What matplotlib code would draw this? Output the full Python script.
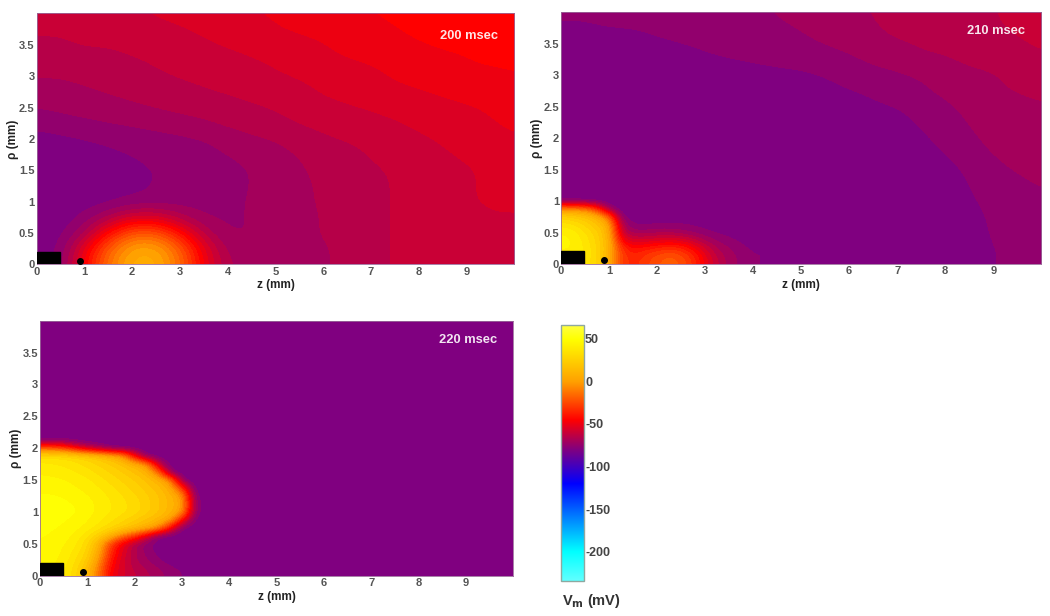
"""
Vm maps at three time points, rho vs z, with a shared colour scale.
Field values are read off the picture on regular grids, imshow does the smoothing.
"""
import numpy as np
import matplotlib
matplotlib.use("Agg")
import matplotlib.pyplot as plt
from matplotlib.cm import ScalarMappable
from matplotlib.colors import LinearSegmentedColormap, Normalize
from matplotlib.patches import Rectangle

plt.rcParams["font.family"] = ["Liberation Sans", "DejaVu Sans"]
plt.rcParams["font.weight"] = "bold"

W, H = 1050, 616

z_ticks = [0, 1, 2, 3, 4, 5, 6, 7, 8, 9]
rho_ticks = [0, 0.5, 1, 1.5, 2, 2.5, 3, 3.5]
rho_tick_labels = ["0", "0.5", "1", "1.5", "2", "2.5", "3", "3.5"]
cbar_ticks = [50, 0, -50, -100, -150, -200]
electrode_z = 0.48
electrode_rho = 0.2
probe_z = 0.9
probe_rho = 0.06

# coarse grid: z 0..10 by 0.5, rho 0..4 by 0.25
# fine grid near the electrode: z 0..4 by 0.25, rho by 0.125

# ---------- 200 msec ----------
vm_200 = [
    [-78, -75, -45, -12, 6, 6, -14, -48, -66, -68, -68, -67, -66, -64, -62, -60, -59, -58, -57, -56, -56],
    [-78, -76, -50, -18, 2, 2, -18, -52, -68, -70, -69, -67, -66, -64, -62, -60, -59, -58, -57, -57, -56],
    [-79, -77, -68, -42, -21, -21, -42, -64, -71, -70, -69, -67, -65, -63, -62, -60, -59, -58, -57, -56, -56],
    [-79, -78, -74, -66, -56, -56, -65, -71, -71, -70, -68, -67, -65, -63, -62, -60, -59, -58, -57, -56, -56],
    [-79, -79, -78, -77, -75, -74, -73, -72, -71, -70, -68, -66, -65, -63, -62, -60, -59, -58, -56, -55, -55],
    [-79, -79, -78, -77, -76, -75, -74, -73, -72, -70, -68, -66, -65, -63, -62, -60, -59, -58, -56, -55, -55],
    [-79, -79, -78, -77, -76, -75, -74, -73, -72, -70, -68, -66, -64, -63, -61, -60, -59, -57, -56, -55, -54],
    [-79, -78, -77, -76, -75, -74, -73, -72, -70, -68, -67, -65, -63, -62, -60, -59, -58, -56, -55, -54, -53],
    [-77, -76, -75, -74, -73, -72, -71, -70, -68, -66, -65, -63, -61, -60, -59, -57, -56, -55, -54, -52, -51],
    [-73, -72, -71, -70, -69, -68, -67, -66, -64, -63, -62, -60, -59, -58, -57, -56, -55, -54, -53, -51, -50],
    [-70, -69, -68, -67, -66, -65, -64, -63, -62, -61, -60, -58, -57, -56, -55, -54, -53, -52, -51, -50, -49],
    [-67, -67, -66, -65, -64, -63, -62, -61, -60, -59, -58, -57, -55, -54, -53, -52, -51, -50, -49, -49, -48],
    [-65, -65, -64, -63, -62, -61, -60, -59, -58, -57, -56, -55, -54, -53, -52, -50, -49, -48, -47, -47, -46],
    [-63, -63, -62, -62, -61, -60, -59, -58, -57, -56, -55, -54, -52, -51, -50, -49, -48, -47, -46, -45, -45],
    [-61, -61, -60, -60, -59, -58, -57, -56, -55, -54, -53, -52, -51, -49, -48, -47, -46, -45, -45, -45, -45],
    [-60, -60, -59, -59, -58, -57, -56, -55, -54, -53, -51, -50, -49, -48, -47, -46, -45, -45, -45, -45, -45],
    [-58, -58, -57, -57, -56, -55, -54, -53, -52, -51, -50, -48, -47, -46, -46, -45, -45, -45, -45, -45, -45],
]

# ---------- 210 msec ----------
vm_210 = [
    [-80] * 17 + [-78, -75, -74, -73],
    [-80] * 17 + [-78, -75, -74, -74],
    [-80] * 17 + [-78, -74, -73, -73],
    [-80] * 17 + [-77, -74, -73, -72],
    [-80] * 16 + [-79, -76, -73, -72, -71],
    [-80] * 16 + [-78, -75, -72, -71, -70],
    [-80] * 15 + [-79, -77, -74, -71, -70, -69],
    [-80] * 15 + [-78, -75, -72, -70, -69, -68],
    [-80] * 14 + [-79, -76, -73, -71, -69, -68, -67],
    [-80] * 12 + [-79, -78, -77, -74, -72, -70, -68, -67, -66],
    [-80] * 11 + [-79, -78, -76, -75, -73, -71, -69, -68, -67, -66],
    [-80] * 9 + [-79, -78, -76, -75, -74, -72, -71, -69, -68, -66, -65, -64],
    [-80] * 7 + [-79, -78, -77, -76, -75, -74, -72, -71, -70, -68, -67, -66, -64, -63],
    [-80] * 4 + [-79, -78, -76, -75, -74, -73, -73, -72, -71, -69, -68, -66, -66, -64, -63, -62, -61],
    [-79, -78, -78, -77, -76, -75, -74, -73, -72, -72, -71, -70, -69, -67, -66, -65, -64, -63, -62, -61, -60],
    [-76, -76, -75, -75, -74, -73, -72, -72, -71, -71, -70, -69, -68, -66, -64, -63, -63, -62, -61, -60, -59],
    [-74, -74, -73, -73, -73, -72, -72, -71, -71, -70, -69, -68, -67, -65, -63, -62, -62, -61, -61, -59, -58],
]
vm_210_near = [
    [38, 38, 35, 28, 8, -28, -34, -28, -22, -18, -22, -32, -48, -60, -68, -72, -75],
    [40, 40, 36, 28, 8, -28, -35, -30, -24, -20, -24, -34, -50, -62, -68, -72, -75],
    [42, 42, 36, 28, 10, -32, -42, -38, -35, -32, -35, -44, -56, -66, -70, -74, -76],
    [43, 42, 35, 26, 10, -45, -55, -54, -52, -50, -52, -58, -66, -71, -74, -76, -78],
    [42, 40, 32, 24, 8, -58, -68, -68, -66, -66, -68, -71, -74, -76, -77, -78, -79],
    [35, 32, 26, 18, 5, -65, -76, -76, -75, -75, -75, -76, -77, -78, -79, -80, -80],
    [25, 22, 18, 8, -15, -76, -78, -78, -78, -78, -78, -78, -79, -80, -80, -80, -80],
    [-5, -8, -12, -30, -72, -80, -80, -80, -80, -80, -80, -80, -80, -80, -80, -80, -80],
    [-78, -78, -79] + [-80] * 14,
    [-80] * 17,
    [-80] * 17,
]

# ---------- 220 msec ----------
vm_220_near = [
    [44, 42, 38, 28, 12, -15, -48, -55, -60, -64, -68, -72, -75, -78, -79, -80, -80],
    [44, 42, 38, 30, 15, -12, -45, -55, -62, -66, -70, -74, -76, -78, -80, -80, -80],
    [45, 43, 40, 32, 22, -5, -40, -55, -65, -70, -75, -78, -80, -80, -80, -80, -80],
    [46, 44, 41, 35, 26, 3, -35, -52, -65, -72, -77, -80, -80, -80, -80, -80, -80],
    [46, 45, 42, 38, 28, 8, -30, -50, -65, -75, -78, -80, -80, -80, -80, -80, -80],
    [47, 46, 44, 40, 33, 22, 8, -15, -30, -55, -78, -80, -80, -80, -80, -80, -80],
    [48, 47, 46, 43, 40, 34, 28, 22, 15, 8, -5, -45, -78, -80, -80, -80, -80],
    [49, 48, 47, 45, 42, 38, 33, 28, 22, 16, 10, 2, -45, -78, -80, -80, -80],
    [50, 50, 49, 47, 44, 40, 37, 33, 30, 24, 18, 10, 0, -72, -80, -80, -80],
    [50, 49, 48, 46, 44, 40, 37, 33, 30, 24, 18, 10, 2, -70, -80, -80, -80],
    [47, 47, 46, 44, 42, 39, 36, 32, 28, 23, 18, 10, 0, -75, -80, -80, -80],
    [45, 45, 44, 42, 40, 37, 33, 29, 25, 20, 14, 5, -30, -80, -80, -80, -80],
    [43, 43, 42, 40, 38, 34, 30, 26, 22, 16, 10, -5, -78, -80, -80, -80, -80],
    [41, 40, 39, 37, 34, 30, 26, 22, 16, 10, -15, -78, -80, -80, -80, -80, -80],
    [38, 37, 36, 33, 30, 26, 22, 16, 8, -3, -60, -80, -80, -80, -80, -80, -80],
    [32, 32, 31, 28, 24, 18, 10, 0, -45, -78, -80, -80, -80, -80, -80, -80, -80],
    [-20, -22, -28, -45, -60, -68, -78, -80, -80, -80, -80, -80, -80, -80, -80, -80, -80],
    [-78, -78, -78, -79] + [-80] * 13,
    [-80] * 17,
    [-80] * 17,
    [-80] * 17,
]
vm_220_rest = -80

# colour scale stops, mV
vm_min, vm_max = -234, 66
stop_vm = [-234, -200, -160, -120, -80, -45, 0, 50, 66]
stop_colors = ["#60ffff", "#00ffff", "#0080ff", "#0000ff", "#800080",
               "#ff0000", "#ffa000", "#ffff00", "#ffff40"]


def make_cmap(name, vals, cols):
    pos = [(v - vals[0]) / (vals[-1] - vals[0]) for v in vals]
    return LinearSegmentedColormap.from_list(name, list(zip(pos, cols)), N=256)


cmap = make_cmap("vm", stop_vm, stop_colors)
norm = Normalize(vm_min, vm_max)
# the maps bottom out at -80, anything under it stays purple; 30 steps give the bands
field_cmap = make_cmap("vm_field", stop_vm[4:], stop_colors[4:]).resampled(30)
field_norm = Normalize(-80, vm_max)


def add_axes_px(fig, left, top, right, bottom):
    return fig.add_axes([left / W, 1 - bottom / H, (right - left) / W, (bottom - top) / H])


def show_field(ax, vm, dz, drho):
    vm = np.array(vm, dtype=float)
    z_end = (vm.shape[1] - 1) * dz
    rho_end = (vm.shape[0] - 1) * drho
    ax.imshow(vm, origin="lower", aspect="auto", cmap=field_cmap, norm=field_norm,
              extent=(-dz / 2, z_end + dz / 2, -drho / 2, rho_end + drho / 2),
              interpolation="bicubic", interpolation_stage="data")


def draw_panel(fig, box, layers, label, label_y):
    ax = add_axes_px(fig, *box)
    ax.set_facecolor(field_cmap(field_norm(vm_220_rest)))
    for vm, dz, drho in layers:
        show_field(ax, vm, dz, drho)
    ax.set_xlim(0, 10)
    ax.set_ylim(0, 4)
    ax.set_xticks(z_ticks)
    ax.set_yticks(rho_ticks)
    ax.set_yticklabels(rho_tick_labels)
    ax.tick_params(length=0, labelsize=8, labelcolor="#555555", pad=1.5)
    ax.set_xlabel("z (mm)", fontsize=8.5, fontweight="bold", color="#222222", va="center")
    ax.set_ylabel("ρ (mm)", fontsize=8.5, fontweight="bold", color="#222222", va="center")
    ax.xaxis.set_label_coords(0.5, -0.082)
    ax.yaxis.set_label_coords(-0.05, 0.5)
    for spine in ax.spines.values():
        spine.set_color("#9a6a9a")
        spine.set_linewidth(0.6)
    ax.add_patch(Rectangle((0, 0), electrode_z, electrode_rho, color="black", zorder=3))
    ax.scatter([probe_z], [probe_rho], s=16, color="black", zorder=3, clip_on=False)
    ax.text(0.966, label_y, label, transform=ax.transAxes, ha="right", va="center",
            color="white", fontsize=9.3, fontweight="bold", alpha=0.9)
    return ax


fig = plt.figure(figsize=(W / 100, H / 100), dpi=100)

draw_panel(fig, (36.7, 13.5, 514.3, 264.5), [(vm_200, 0.5, 0.25)], "200 msec", 0.912)
draw_panel(fig, (561, 12.3, 1041.3, 264),
           [(vm_210, 0.5, 0.25), (vm_210_near, 0.25, 0.125)], "210 msec", 0.926)
draw_panel(fig, (40, 320.7, 513.3, 575.7), [(vm_220_near, 0.25, 0.125)], "220 msec", 0.924)

# ---------- colour bar ----------
cax = add_axes_px(fig, 560.7, 324.7, 583.7, 580.7)
cbar = fig.colorbar(ScalarMappable(norm=norm, cmap=cmap), cax=cax, ticks=cbar_ticks)
cbar.ax.tick_params(length=0, labelsize=9, labelcolor="#444444", pad=1)
cbar.ax.set_yticklabels([str(t) for t in cbar_ticks])
cbar.outline.set_edgecolor("#8fa8a0")
cbar.outline.set_linewidth(1)
fig.text(591 / W, 1 - 601 / H, r"V$_{\mathbf{m}}$ (mV)", ha="center", va="center",
         fontsize=10.5, fontweight="bold", color="#333333",
         math_fontfamily="dejavusans")

fig.savefig("out.png", dpi=100)
